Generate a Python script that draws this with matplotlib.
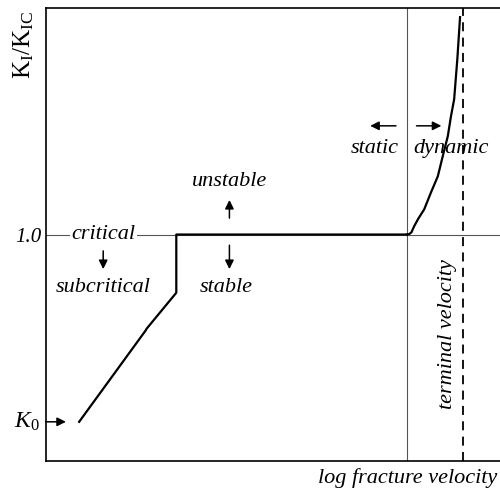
import matplotlib.pyplot as plt

plt.rcParams['font.family'] = 'Liberation Serif'
plt.rcParams['mathtext.fontset'] = 'custom'
plt.rcParams['mathtext.rm'] = 'Liberation Serif'
plt.rcParams['mathtext.it'] = 'Liberation Serif:italic'

# log velocity (arbitrary units) vs K_I/K_IC
slow_x = [0.73, 2.19, 2.22, 2.87, 2.87, 7.95]
slow_y = [0.173, 0.575, 0.585, 0.743, 1.0, 1.0]

dyn_x = [7.95, 8.00, 8.05, 8.11, 8.20, 8.33, 8.48, 8.63, 8.76, 8.85, 8.92, 8.99, 9.06, 9.12]
dyn_y = [1.0, 1.002, 1.010, 1.037, 1.07, 1.111, 1.186, 1.257, 1.363, 1.434, 1.522, 1.597, 1.774, 1.96]

k0 = 0.173
v_boundary = 7.95
v_terminal = 9.18

fig = plt.figure(figsize=(5, 4.95), dpi=100)
ax = fig.add_axes([0.092, 0.0687, 0.908, 0.915])
ax.set_xlim(0, 10)
ax.set_ylim(0, 2.0)

for s in ['left', 'bottom', 'top']:
    ax.spines[s].set_linewidth(1.2)
ax.spines['right'].set_visible(False)

ax.axhline(1.0, color='#555555', lw=0.8, zorder=1)
ax.axvline(v_boundary, color='#555555', lw=0.8, zorder=1)
ax.axvline(v_terminal, color='black', lw=1.3, ls=(0, (5, 3.5)), zorder=1)

ax.plot(slow_x, slow_y, color='black', lw=1.6, zorder=3)
ax.plot(dyn_x, dyn_y, color='black', lw=1.6, zorder=3, solid_joinstyle='round')

ax.set_xticks([])
ax.set_yticks([1.0])
ax.set_yticklabels(['1.0'], fontstyle='italic', fontsize=15)
ax.tick_params(axis='y', length=0, pad=3)

ax.set_ylabel(r'$\mathregular{K_I/K_{IC}}$', fontsize=18)
ax.yaxis.set_label_coords(-0.022, 0.92)
ax.set_xlabel('log fracture velocity', fontstyle='italic', fontsize=16,
              ha='right', x=0.995, labelpad=5)

fs = 16
ax.text(1.27, 1.0, 'critical', style='italic', fontsize=fs, ha='center',
        va='center', bbox=dict(fc='white', ec='none', pad=1), zorder=2)
ax.text(1.25, 0.765, 'subcritical', style='italic', fontsize=fs, ha='center', va='center')
ax.text(4.04, 1.235, 'unstable', style='italic', fontsize=fs, ha='center', va='center')
ax.text(3.97, 0.765, 'stable', style='italic', fontsize=fs, ha='center', va='center')
ax.text(7.25, 1.38, 'static', style='italic', fontsize=fs, ha='center', va='center')
ax.text(8.92, 1.38, 'dynamic', style='italic', fontsize=fs, ha='center', va='center')
ax.text(8.85, 0.56, 'terminal velocity', style='italic', fontsize=fs, ha='center',
        va='center', rotation=90)

arr = dict(arrowstyle='-|>', color='black', lw=1.1, mutation_scale=13)
ax.annotate('', xy=(1.26, 0.835), xytext=(1.26, 0.94), arrowprops=arr)
ax.annotate('', xy=(4.04, 1.165), xytext=(4.04, 1.06), arrowprops=arr)
ax.annotate('', xy=(4.04, 0.835), xytext=(4.04, 0.965), arrowprops=arr)
ax.annotate('', xy=(7.08, 1.48), xytext=(7.77, 1.48), arrowprops=arr)
ax.annotate('', xy=(8.77, 1.48), xytext=(8.1, 1.48), arrowprops=arr)
ax.annotate('', xy=(0.5, k0), xytext=(-0.07, k0), arrowprops=arr, annotation_clip=False)
ax.text(-0.15, k0, r'$\mathit{K}_{\mathregular{0}}$', fontsize=17, ha='right', va='center')

fig.savefig('out.png', dpi=100)
